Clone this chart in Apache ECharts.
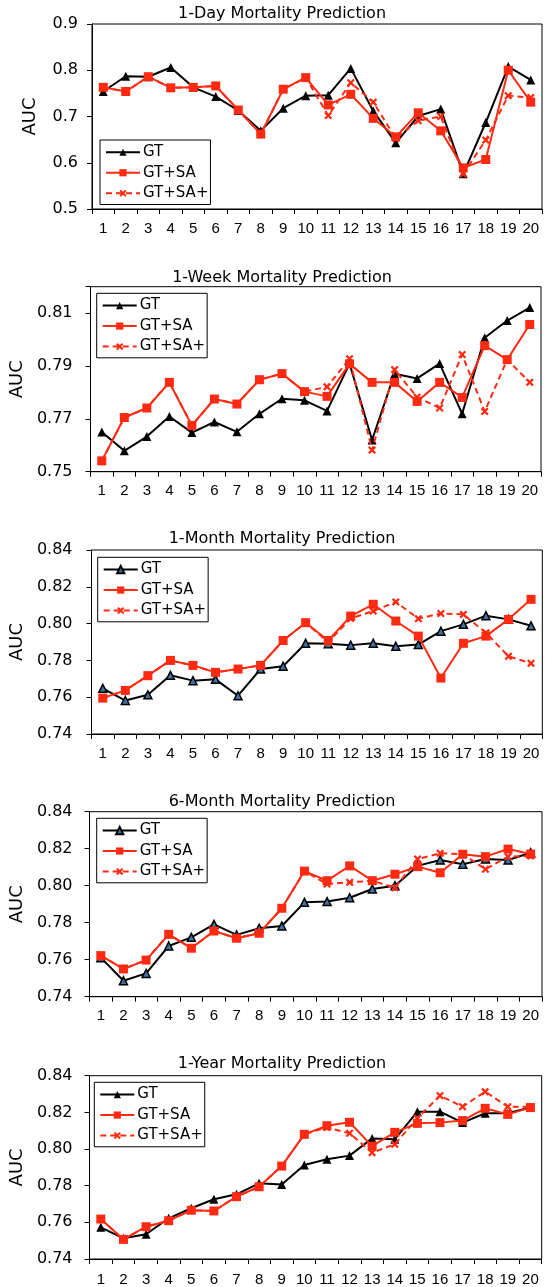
<!DOCTYPE html>
<html>
<head>
<meta charset="utf-8">
<script src="https://cdn.jsdelivr.net/npm/echarts@6/dist/echarts.min.js"></script>
<style>
html,body{margin:0;padding:0;background:#fff;}
#chart{width:548px;height:1287px;}
</style>
</head>
<body>
<div id="chart"></div>
<script>
// ---------- data ----------
var categories = ['1','2','3','4','5','6','7','8','9','10','11','12','13','14','15','16','17','18','19','20'];
var seriesNames = ['GT', 'GT+SA', 'GT+SA+'];
var titles = ['1-Day Mortality Prediction', '1-Week Mortality Prediction', '1-Month Mortality Prediction', '6-Month Mortality Prediction', '1-Year Mortality Prediction'];

var dayGT   = [0.754,0.787,0.786,0.806,0.763,0.743,0.713,0.669,0.718,0.745,0.746,0.804,0.712,0.643,0.701,0.716,0.576,0.687,0.808,0.779];
var daySA   = [0.763,0.754,0.786,0.762,0.763,0.766,0.714,0.662,0.759,0.784,0.725,0.748,0.696,0.656,0.708,0.669,0.589,0.607,0.800,0.731];
var daySAp  = [0.763,0.754,0.786,0.762,0.763,0.766,0.714,0.662,0.759,0.784,0.702,0.773,0.731,0.653,0.691,0.700,0.576,0.649,0.745,0.741];

var weekGT  = [0.7650,0.7579,0.7633,0.7709,0.7648,0.7688,0.7651,0.7719,0.7776,0.7770,0.7730,0.7909,0.7620,0.7871,0.7853,0.7909,0.7719,0.8007,0.8072,0.8121];
var weekSA  = [0.7541,0.7705,0.7741,0.7838,0.7675,0.7775,0.7756,0.7848,0.7871,0.7803,0.7785,0.7908,0.7838,0.7838,0.7766,0.7838,0.7781,0.7977,0.7924,0.8057];
var weekSAp = [0.7541,0.7705,0.7741,0.7838,0.7675,0.7775,0.7756,0.7848,0.7871,0.7803,0.7821,0.7927,0.7582,0.7886,0.7782,0.7741,0.7943,0.7728,0.7924,0.7838];

var monthGT  = [0.7648,0.7582,0.7613,0.7719,0.7690,0.7697,0.7608,0.7753,0.7768,0.7893,0.7890,0.7883,0.7893,0.7877,0.7886,0.7959,0.7996,0.8043,0.8023,0.7988];
var monthSA  = [0.7595,0.7637,0.7717,0.7800,0.7773,0.7735,0.7753,0.7773,0.7908,0.8005,0.7908,0.8041,0.8105,0.8014,0.7932,0.7704,0.7893,0.7932,0.8023,0.8132];
var monthSAp = [0.7595,0.7637,0.7717,0.7800,0.7773,0.7735,0.7753,0.7773,0.7908,0.8005,0.7899,0.8028,0.8068,0.8118,0.8027,0.8055,0.8050,0.7950,0.7822,0.7784];

var sixmGT  = [0.7611,0.7486,0.7526,0.7674,0.7721,0.7791,0.7734,0.7770,0.7782,0.7910,0.7914,0.7935,0.7982,0.8000,0.8107,0.8139,0.8116,0.8144,0.8139,0.8178];
var sixmSA  = [0.7622,0.7550,0.7598,0.7737,0.7662,0.7755,0.7716,0.7743,0.7878,0.8079,0.8027,0.8107,0.8027,0.8062,0.8103,0.8070,0.8170,0.8157,0.8198,0.8171];
var sixmSAp = [0.7622,0.7550,0.7598,0.7737,0.7662,0.7755,0.7716,0.7743,0.7878,0.8079,0.8009,0.8018,0.8027,0.7989,0.8144,0.8175,0.8170,0.8089,0.8157,0.8161];

var yearGT  = [0.7573,0.7513,0.7535,0.7622,0.7677,0.7726,0.7753,0.7813,0.7807,0.7913,0.7944,0.7964,0.8058,0.8053,0.8204,0.8204,0.8144,0.8195,0.8195,0.8226];
var yearSA  = [0.7618,0.7507,0.7576,0.7609,0.7666,0.7662,0.7740,0.7794,0.7907,0.8080,0.8127,0.8146,0.8016,0.8091,0.8140,0.8144,0.8155,0.8222,0.8189,0.8226];
var yearSAp = [0.7618,0.7507,0.7576,0.7609,0.7666,0.7662,0.7740,0.7794,0.7907,0.8080,0.8118,0.8086,0.7980,0.8026,0.8168,0.8291,0.8231,0.8313,0.8231,0.8231];

var yMin = [0.5, 0.75, 0.74, 0.74, 0.74];
var yMax = [0.9, 0.82, 0.84, 0.84, 0.84];
var yStep = [0.1, 0.02, 0.02, 0.02, 0.02];
var yDecimals = [1, 2, 2, 2, 2];

var panelData = [
  [dayGT, daySA, daySAp],
  [weekGT, weekSA, weekSAp],
  [monthGT, monthSA, monthSAp],
  [sixmGT, sixmSA, sixmSAp],
  [yearGT, yearSA, yearSAp]
];

// ---------- layout / style ----------
var layout = [
  {left: 92, right: 6,   top: 24,     height: 185,   titleTop: 6,      lgLeft: 100,  lgTop: 140,    lblMargin: 14, nameGap: 53, xMargin: 12},
  {left: 90, right: 7,   top: 286.7,  height: 185,   titleTop: 269.5,  lgLeft: 96.7, lgTop: 293.3,  lblMargin: 18, nameGap: 56, xMargin: 12},
  {left: 90, right: 5.7, top: 550,    height: 184,   titleTop: 531,    lgLeft: 97.7, lgTop: 557.3,  lblMargin: 19, nameGap: 57, xMargin: 12},
  {left: 87.3, right: 6, top: 811.7,  height: 185,   titleTop: 793.5,  lgLeft: 96.7, lgTop: 818.3,  lblMargin: 17, nameGap: 56, xMargin: 12},
  {left: 84, right: 6.3, top: 1075.7, height: 183.3, titleTop: 1056,   lgLeft: 94.3, lgTop: 1082.3, lblMargin: 17, nameGap: 52, xMargin: 13}
];
var RED = '#ff2a12';
var FONT = 'DejaVu Sans';
var XSYM = 'path://M0,2L2,0L5,3L8,0L10,2L7,5L10,8L8,10L5,7L2,10L0,8L3,5Z';

var option = {
  animation: false,
  backgroundColor: '#fff',
  title: [], grid: [], xAxis: [], yAxis: [], legend: [], series: []
};

layout.forEach(function (L, i) {
  option.title.push({
    text: titles[i], left: 282, top: L.titleTop, padding: 0,
    textAlign: 'center', textVerticalAlign: 'top',
    textStyle: {fontFamily: FONT, fontSize: 16, fontWeight: 'normal', color: '#000'}
  });
  option.grid.push({
    left: L.left, right: L.right, top: L.top, height: L.height,
    show: true, borderColor: '#000', borderWidth: 1, backgroundColor: 'transparent',
    containLabel: false
  });
  option.xAxis.push({
    type: 'category', gridIndex: i, data: categories, boundaryGap: true,
    axisLine: {show: true, lineStyle: {color: '#000', width: 1}},
    axisTick: {show: true, length: 5, alignWithLabel: false, interval: 0, lineStyle: {color: '#000'}},
    axisLabel: {interval: 0, margin: L.xMargin, fontFamily: 'Liberation Sans', fontSize: 15, color: '#000'},
    splitLine: {show: false}
  });
  (function (dec, maxV) {
    option.yAxis.push({
      type: 'value', gridIndex: i, min: yMin[i], max: yMax[i], interval: yStep[i],
      name: 'AUC', nameLocation: 'middle', nameGap: L.nameGap,
      nameTextStyle: {fontFamily: FONT, fontSize: 18, color: '#000'},
      axisLine: {show: true, lineStyle: {color: '#000', width: 1}},
      axisTick: {show: true, length: 5, lineStyle: {color: '#000'}},
      axisLabel: {
        margin: L.lblMargin, fontFamily: FONT, fontSize: 16, color: '#000', showMaxLabel: true,
        formatter: function (v) {
          var tick = (v - yMin[i]) / yStep[i];
          if (Math.abs(tick - Math.round(tick)) > 1e-6) return '';
          return v.toFixed(dec);
        }
      },
      splitLine: {show: false}
    });
  })(yDecimals[i], yMax[i]);

  var nm = seriesNames.map(function (n) { return n + '|' + i; });
  var triFill = (i === 2 || i === 3) ? '#3f73a6' : '#000';
  var triBorder = (i === 2 || i === 3) ? 1.5 : 0;
  var triSize = (i === 2 || i === 3) ? 8 : 9;

  option.legend.push({
    data: nm, orient: 'vertical', left: L.lgLeft, top: L.lgTop,
    itemWidth: 34, itemHeight: 9, itemGap: 0, padding: [2, 2, 1, 5],
    borderColor: '#000', borderWidth: 1, borderRadius: 0, backgroundColor: '#fff',
    selectedMode: false,
    formatter: function (name) { return name.split('|')[0]; },
    textStyle: {fontFamily: FONT, fontSize: 15, color: '#000', lineHeight: 20.5, padding: [0, 0, 0, -2]}
  });

  option.series.push({
    name: nm[0], type: 'line', xAxisIndex: i, yAxisIndex: i, data: panelData[i][0],
    symbol: 'triangle', symbolSize: triSize, showAllSymbol: true, z: 2,
    lineStyle: {color: '#000', width: 2},
    itemStyle: {color: triFill, borderColor: '#000', borderWidth: triBorder}
  });
  option.series.push({
    name: nm[1], type: 'line', xAxisIndex: i, yAxisIndex: i, data: panelData[i][1],
    symbol: 'rect', symbolSize: 9, showAllSymbol: true, z: 3,
    lineStyle: {color: RED, width: 2},
    itemStyle: {color: RED, borderWidth: 0}
  });
  option.series.push({
    name: nm[2], type: 'line', xAxisIndex: i, yAxisIndex: i, data: panelData[i][2],
    symbol: XSYM, symbolSize: 8, showAllSymbol: true, z: 4,
    lineStyle: {color: RED, width: 2, type: [6, 4]},
    itemStyle: {color: RED, borderWidth: 0}
  });
});

var chart = echarts.init(document.getElementById('chart'), null, {renderer: 'canvas'});
chart.setOption(option);
</script>
</body>
</html>
